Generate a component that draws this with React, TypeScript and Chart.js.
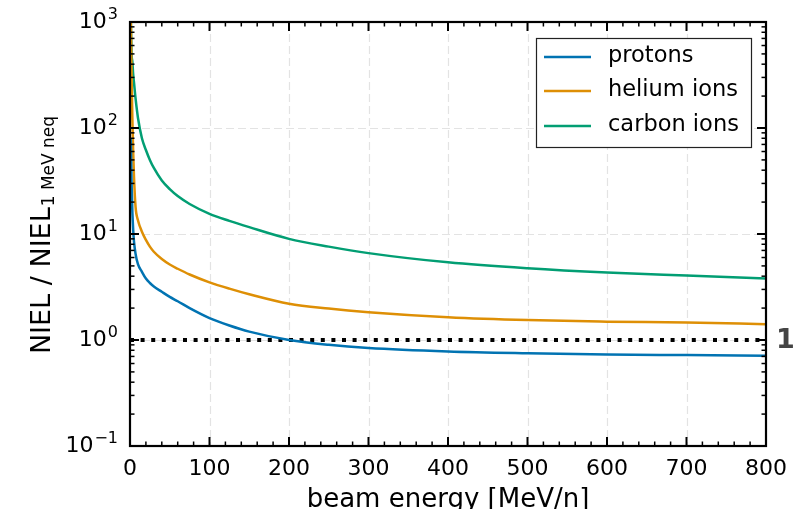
import React, { useEffect, useRef } from "react";
import { Chart, registerables } from "chart.js";

Chart.register(...registerables);

// ---- data ----
const energy = [1, 2, 3, 4, 5, 7, 10, 15, 20, 25, 30, 40, 50, 60, 75, 100, 125, 150, 200, 250, 300, 400, 500, 600, 700, 800];
const protons = [80, 30, 16, 11, 8.5, 6.5, 5.2, 4.4, 3.8, 3.45, 3.2, 2.85, 2.55, 2.32, 2.0, 1.61, 1.37, 1.2, 1.0, 0.9, 0.84, 0.78, 0.75, 0.73, 0.72, 0.71];
const helium = [1100, 300, 120, 60, 35, 18, 13.5, 10.5, 8.8, 7.6, 6.8, 5.8, 5.15, 4.7, 4.15, 3.5, 3.05, 2.7, 2.2, 1.98, 1.83, 1.64, 1.54, 1.49, 1.46, 1.41];
const carbon = [1100, 500, 420, 320, 270, 190, 125, 80, 62, 50, 42, 32, 26.5, 22.8, 19.2, 15.5, 13.3, 11.6, 9.0, 7.6, 6.6, 5.4, 4.75, 4.33, 4.05, 3.8];
const referenceLevel = 1;
const referenceLabel = "1";
const seriesNames = ["protons", "helium ions", "carbon ions"];
const seriesColors = ["#0173b2", "#de8f05", "#029e73"];
const xTicks = [0, 100, 200, 300, 400, 500, 600, 700, 800];
const xMinorStep = 20;
const yDecades = [-1, 0, 1, 2, 3];
const xTitle = "beam energy [MeV/n]";
const yTitleMain = "NIEL / NIEL";
const yTitleSub = "1 MeV neq";

const FONT = "DejaVu Sans";
const supMap: Record<string, string> = { "-": "\u2212" };

const decor = {
  id: "decor",
  beforeDatasetsDraw(chart: any) {
    const { ctx, chartArea: a, scales } = chart;
    const x = scales.x, y = scales.y;
    ctx.save();
    ctx.strokeStyle = "#e3e3e3";
    ctx.lineWidth = 1.2;
    ctx.setLineDash([8, 4]);
    xTicks.forEach((v) => {
      const px = Math.round(x.getPixelForValue(v)) + 0.5;
      if (px <= a.left + 1 || px >= a.right - 1) return;
      ctx.beginPath();
      ctx.moveTo(px, a.top);
      ctx.lineTo(px, a.bottom);
      ctx.stroke();
    });
    yDecades.forEach((d) => {
      const py = Math.round(y.getPixelForValue(Math.pow(10, d))) + 0.5;
      if (py <= a.top + 1 || py >= a.bottom - 1) return;
      ctx.beginPath();
      ctx.moveTo(a.left, py);
      ctx.lineTo(a.right, py);
      ctx.stroke();
    });
    ctx.restore();
  },
  afterDatasetsDraw(chart: any) {
    const { ctx, chartArea: a, scales } = chart;
    const x = scales.x, y = scales.y;
    ctx.save();
    // frame
    ctx.strokeStyle = "#000";
    ctx.lineWidth = 2.2;
    ctx.setLineDash([]);
    ctx.strokeRect(a.left, a.top, a.right - a.left, a.bottom - a.top);

    // ticks (inward, all sides)
    const tick = (x0: number, y0: number, x1: number, y1: number, w: number) => {
      ctx.lineWidth = w;
      ctx.beginPath();
      ctx.moveTo(x0, y0);
      ctx.lineTo(x1, y1);
      ctx.stroke();
    };
    const xmin = xTicks[0], xmax = xTicks[xTicks.length - 1];
    for (let v = xmin; v <= xmax; v += xMinorStep) {
      const major = xTicks.includes(v);
      const len = major ? 9 : 4.5;
      const w = major ? 2 : 1.5;
      const px = x.getPixelForValue(v);
      tick(px, a.bottom, px, a.bottom - len, w);
      tick(px, a.top, px, a.top + len, w);
    }
    for (let i = 0; i < yDecades.length; i++) {
      const d = yDecades[i];
      const py = y.getPixelForValue(Math.pow(10, d));
      tick(a.left, py, a.left + 9, py, 2);
      tick(a.right, py, a.right - 9, py, 2);
      if (i < yDecades.length - 1) {
        for (let k = 2; k <= 9; k++) {
          const pm = y.getPixelForValue(k * Math.pow(10, d));
          tick(a.left, pm, a.left + 4.5, pm, 1.5);
          tick(a.right, pm, a.right - 4.5, pm, 1.5);
        }
      }
    }

    // y tick labels: 10^d
    ctx.fillStyle = "#000";
    ctx.textBaseline = "middle";
    yDecades.forEach((d) => {
      const py = y.getPixelForValue(Math.pow(10, d));
      const exp = String(d).split("").map((c) => supMap[c] || c).join("");
      ctx.font = `16px "${FONT}"`;
      const ew = ctx.measureText(exp).width;
      const right = a.left - 12;
      ctx.textAlign = "left";
      ctx.fillText(exp, right - ew, py - 7);
      ctx.font = `22px "${FONT}"`;
      ctx.textAlign = "right";
      ctx.fillText("10", right - ew - 1, py + 0.5);
    });

    // y title (rotated, with subscript)
    ctx.save();
    const cy = (a.top + a.bottom) / 2 + 1;
    ctx.translate(50, cy);
    ctx.rotate(-Math.PI / 2);
    ctx.textBaseline = "alphabetic";
    ctx.textAlign = "left";
    ctx.font = `27px "${FONT}"`;
    const mw = ctx.measureText(yTitleMain).width;
    ctx.font = `17px "${FONT}"`;
    const sw = ctx.measureText(yTitleSub).width;
    const total = mw + sw + 1;
    ctx.font = `27px "${FONT}"`;
    ctx.fillText(yTitleMain, -total / 2, 0);
    ctx.font = `17px "${FONT}"`;
    ctx.fillText(yTitleSub, -total / 2 + mw + 1, 4);
    ctx.restore();

    // reference label "1"
    ctx.font = `bold 27px "${FONT}"`;
    ctx.fillStyle = "#444";
    ctx.textAlign = "left";
    ctx.textBaseline = "middle";
    ctx.fillText(referenceLabel, a.right + 10, y.getPixelForValue(referenceLevel) + 1);

    // legend
    const lx = 536, ly = 38, lw = 215, lh = 109;
    ctx.fillStyle = "#fff";
    ctx.fillRect(lx, ly, lw, lh);
    ctx.strokeStyle = "#222";
    ctx.lineWidth = 1.2;
    ctx.strokeRect(lx + 0.5, ly + 0.5, lw, lh);
    const rows = [57, 91, 126];
    seriesNames.forEach((name, i) => {
      ctx.strokeStyle = seriesColors[i];
      ctx.lineWidth = 2.5;
      ctx.beginPath();
      ctx.moveTo(544, rows[i]);
      ctx.lineTo(591, rows[i]);
      ctx.stroke();
      ctx.fillStyle = "#000";
      ctx.font = `22.5px "${FONT}"`;
      ctx.textAlign = "left";
      ctx.textBaseline = "middle";
      ctx.fillText(name, 608, rows[i] - 1);
    });
    ctx.restore();
  },
};

export default function App() {
  const ref = useRef<HTMLCanvasElement | null>(null);
  useEffect(() => {
    document.body.style.margin = "0";
    if (!ref.current) return;
    const series = [protons, helium, carbon];
    const chart = new Chart(ref.current, {
      type: "line",
      data: {
        datasets: [
          ...series.map((s, i) => ({
            label: seriesNames[i],
            data: energy.map((e, j) => ({ x: e, y: s[j] })),
            borderColor: seriesColors[i],
            backgroundColor: seriesColors[i],
            borderWidth: 2.5,
            pointRadius: 0,
            cubicInterpolationMode: "monotone" as const,
            fill: false,
          })),
          {
            label: "reference",
            data: [
              { x: xTicks[0], y: referenceLevel },
              { x: xTicks[xTicks.length - 1], y: referenceLevel },
            ],
            borderColor: "#000",
            borderWidth: 4,
            borderDash: [4, 6.6],
            borderCapStyle: "butt" as const,
            pointRadius: 0,
            fill: false,
          },
        ],
      },
      options: {
        responsive: false,
        animation: false,
        layout: { padding: { top: 22, right: 37, left: 0, bottom: 0 } },
        plugins: { legend: { display: false }, tooltip: { enabled: false } },
        scales: {
          x: {
            type: "linear",
            min: xTicks[0],
            max: xTicks[xTicks.length - 1],
            afterFit: (s: any) => { s.height = 63; },
            afterBuildTicks: (s: any) => { s.ticks = xTicks.map((v) => ({ value: v })); },
            grid: { display: false, drawTicks: false },
            border: { display: false },
            ticks: {
              font: { family: FONT, size: 22 },
              color: "#000",
              padding: 10,
              maxRotation: 0,
              autoSkip: false,
            },
            title: {
              display: true,
              text: xTitle,
              font: { family: FONT, size: 26, lineHeight: 0.7 },
              color: "#000",
              padding: { top: 0, bottom: 0 },
            },
          },
          y: {
            type: "logarithmic",
            min: Math.pow(10, yDecades[0]),
            max: Math.pow(10, yDecades[yDecades.length - 1]),
            afterFit: (s: any) => { s.width = 130; },
            grid: { display: false, drawTicks: false },
            border: { display: false },
            ticks: { display: false },
          },
        },
      },
      plugins: [decor],
    });
    return () => chart.destroy();
  }, []);
  return (
    <div style={{ width: 803, height: 509 }}>
      <canvas ref={ref} width={803} height={509} />
    </div>
  );
}
